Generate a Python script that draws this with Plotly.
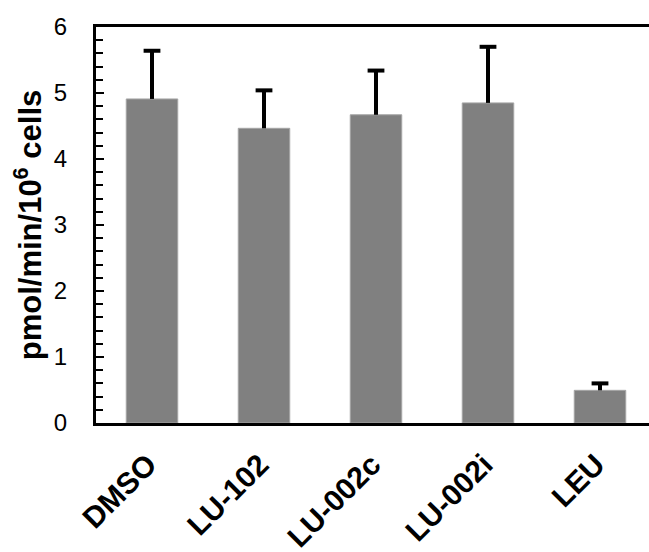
import plotly.graph_objects as go

categories = ["DMSO", "LU-102", "LU-002c", "LU-002i", "LEU"]
values = [4.91, 4.465, 4.67, 4.85, 0.495]
err_upper = [0.73, 0.575, 0.67, 0.85, 0.105]
y_ticks = [0, 1, 2, 3, 4, 5, 6]

xs = list(range(len(categories)))
tops = [v + e for v, e in zip(values, err_upper)]

fig = go.Figure()
fig.add_trace(go.Bar(
    x=xs,
    y=values,
    width=0.46,
    marker=dict(color="#808080", line=dict(color="#a6a6a6", width=1)),
    error_y=dict(type="data", symmetric=False, array=err_upper,
                 arrayminus=[0] * len(values), color="black",
                 thickness=4, width=0),
))
# caps at the top of each error bar
fig.add_trace(go.Scatter(
    x=xs, y=tops, mode="markers",
    marker=dict(symbol="line-ew-open", size=12, color="black",
                line=dict(color="black", width=4)),
    hoverinfo="skip",
))

fig.update_layout(
    width=649, height=552,
    margin=dict(l=96, r=0, t=27, b=129),
    plot_bgcolor="white", paper_bgcolor="white",
    showlegend=False,
    font=dict(family="Liberation Sans, Arial", color="black"),
)
fig.update_xaxes(
    range=[-0.5, 4.4375], automargin=False,
    tickmode="array", tickvals=xs, ticktext=categories,
    tickangle=-45, tickfont=dict(size=30, family="Liberation Sans, Arial", weight="bold"),
    ticklabelshift=-4, ticklabelstandoff=9,
    showline=True, linecolor="black", linewidth=3, mirror=True,
    ticks="", showgrid=False, zeroline=False,
)
fig.update_yaxes(
    range=[0, 6], automargin=False,
    tickmode="array", tickvals=y_ticks,
    tickfont=dict(size=24),
    ticks="inside", ticklen=8, tickwidth=2, tickcolor="black",
    minor=dict(dtick=0.2, ticks="inside", ticklen=7, tickwidth=2, tickcolor="black"),
    showline=True, linecolor="black", linewidth=3,
    showgrid=False, zeroline=False,
    ticklabelstandoff=21,
    title=dict(text="pmol/min/10<sup>6</sup> cells", font=dict(size=31, weight="bold"), standoff=3),
)
fig.write_html("out.html")
